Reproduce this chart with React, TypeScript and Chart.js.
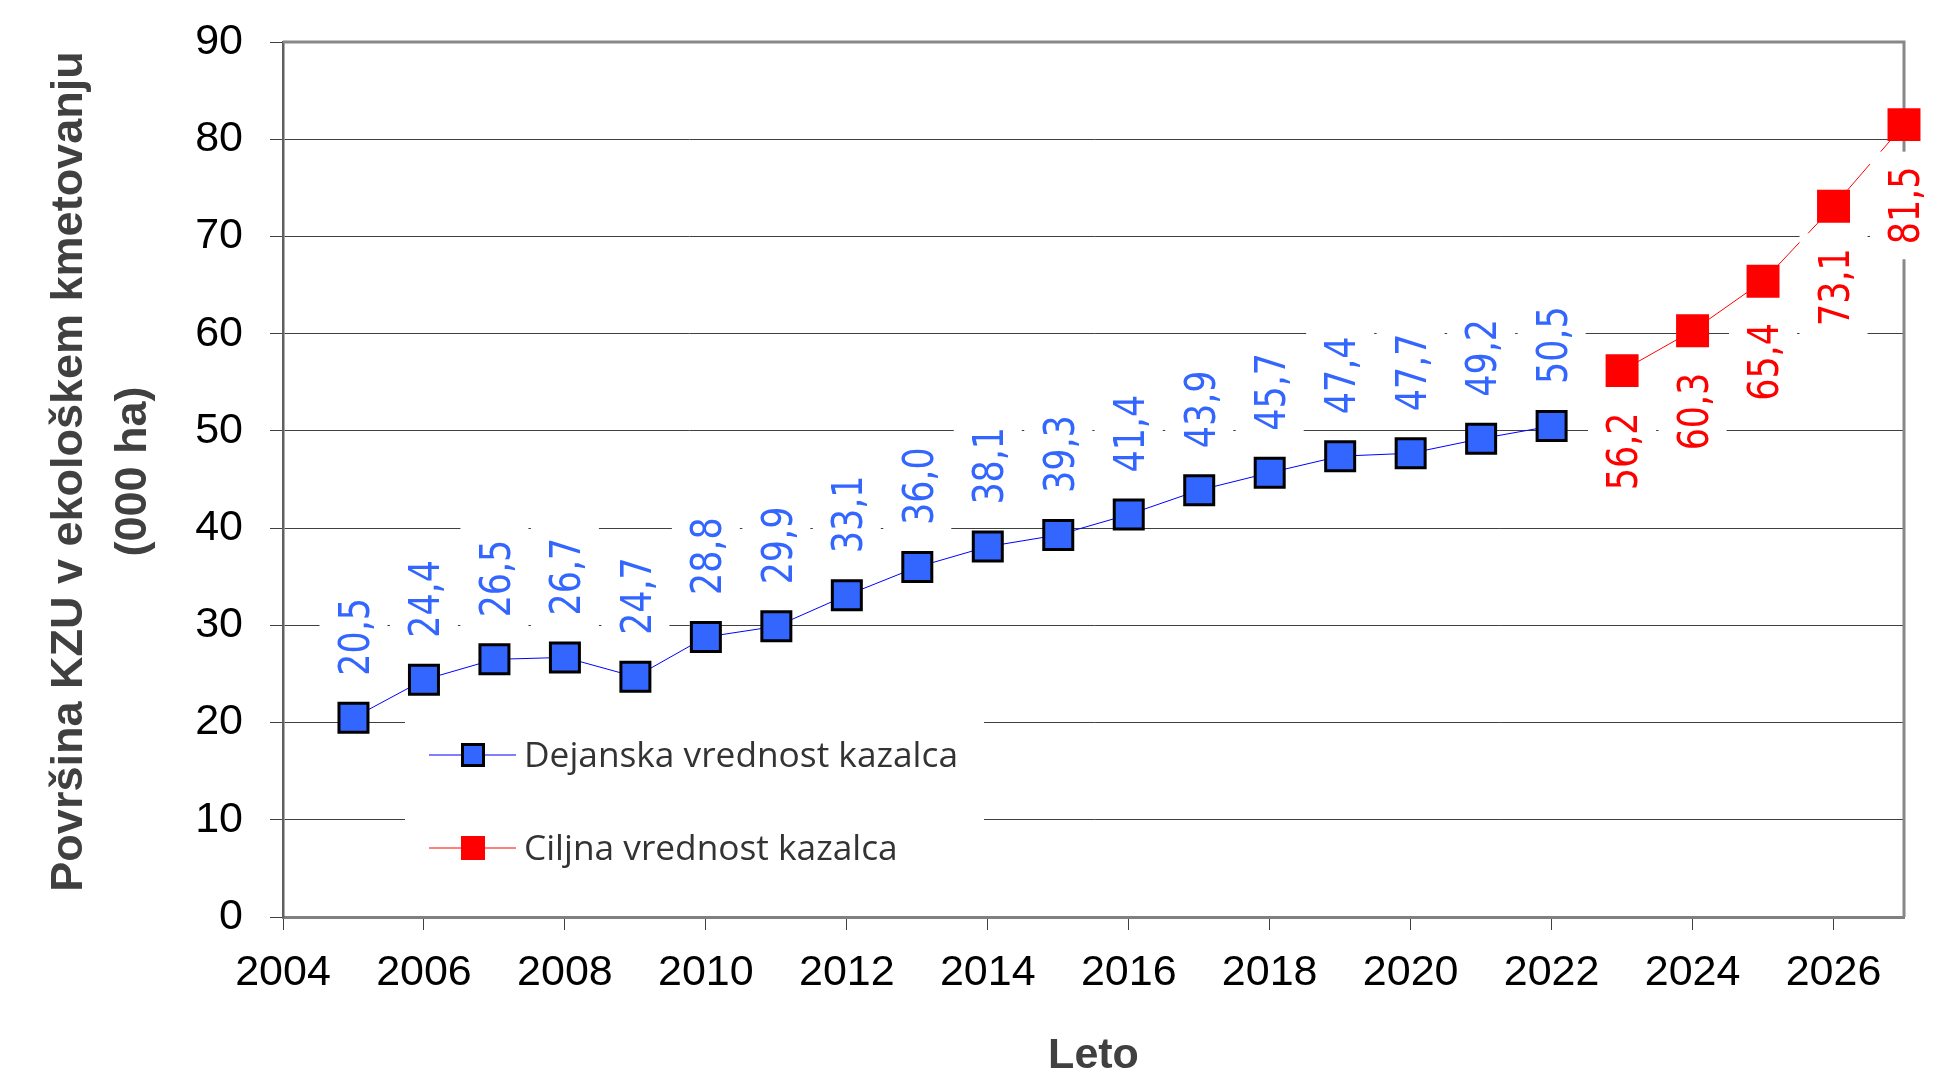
import React, { useEffect, useRef } from 'react';
import { Chart, registerables } from 'chart.js';

Chart.register(...registerables);

// ---- data ----
const actualYears = [2005, 2006, 2007, 2008, 2009, 2010, 2011, 2012, 2013, 2014, 2015, 2016, 2017, 2018, 2019, 2020, 2021, 2022];
const actualValues = [20.5, 24.4, 26.5, 26.7, 24.7, 28.8, 29.9, 33.1, 36.0, 38.1, 39.3, 41.4, 43.9, 45.7, 47.4, 47.7, 49.2, 50.5];
const targetYears = [2023, 2024, 2025, 2026, 2027];
const targetValues = [56.2, 60.3, 65.4, 73.1, 81.5];
const seriesNames = ['Dejanska vrednost kazalca', 'Ciljna vrednost kazalca'];
const yAxisTitle = ['Površina KZU v ekološkem kmetovanju', '(000 ha)'];
const xAxisTitle = 'Leto';
const xRange = [2004, 2027];
const yRange = [0, 90];

// ---- styles ----
const BLUE_LINE = '#0000FF';
const BLUE_FILL = '#3366FF';
const RED = '#FF0000';
const AXIS_FONT = '"Liberation Sans", Arial, sans-serif';
const LABEL_FONT_SIZE = 42;
const LABEL_SCALE = 0.83;
const LEGEND_FONT_SIZE = 35;
const LEGEND_TEXT_WIDTH = 434;
const YTITLE_SIZE = 45;

const fmt = (v: number) => v.toFixed(1).replace('.', ',');

const drawMarker = (ctx: CanvasRenderingContext2D, x: number, y: number, side: number, fill: string, stroke: string | null, lw: number) => {
  ctx.fillStyle = fill;
  ctx.fillRect(x - side / 2, y - side / 2, side, side);
  if (stroke) {
    ctx.strokeStyle = stroke;
    ctx.lineWidth = lw;
    ctx.strokeRect(x - side / 2, y - side / 2, side, side);
  }
};

const decorPlugin: any = {
  id: 'decor',
  beforeDatasetsDraw(chart: any) {
    const { ctx, chartArea } = chart;
    const { left, right, top, bottom } = chartArea;
    ctx.save();
    // top and right frame
    ctx.strokeStyle = '#888888';
    ctx.lineWidth = 3;
    ctx.beginPath();
    ctx.moveTo(left, top);
    ctx.lineTo(right, top);
    ctx.lineTo(right, bottom);
    ctx.stroke();

    // legend box
    const bx = left + 122;
    const by = 705;
    ctx.fillStyle = '#ffffff';
    ctx.fillRect(bx, by, 579, 185);
    const rows = [
      { y: 755, line: BLUE_LINE, fill: BLUE_FILL, stroke: '#000000', text: seriesNames[0] },
      { y: 848, line: RED, fill: RED, stroke: null, text: seriesNames[1] },
    ];
    ctx.font = `${LEGEND_FONT_SIZE}px "Open Sans", sans-serif`;
    const w0 = ctx.measureText(seriesNames[0]).width;
    const sx = LEGEND_TEXT_WIDTH / w0;
    for (const r of rows) {
      ctx.strokeStyle = r.line;
      ctx.lineWidth = 1;
      ctx.beginPath();
      ctx.moveTo(left + 146, r.y);
      ctx.lineTo(left + 233, r.y);
      ctx.stroke();
      if (r.stroke) drawMarker(ctx, left + 190, r.y, 21, r.fill, r.stroke, 3);
      else drawMarker(ctx, left + 190, r.y, 24, r.fill, null, 0);
      ctx.save();
      ctx.translate(left + 241, r.y + LEGEND_FONT_SIZE * 0.714 / 2);
      ctx.scale(sx, 1);
      ctx.fillStyle = '#333333';
      ctx.textAlign = 'left';
      ctx.textBaseline = 'alphabetic';
      ctx.font = `${LEGEND_FONT_SIZE}px "Open Sans", sans-serif`;
      ctx.fillText(r.text, 0, 0);
      ctx.restore();
    }
    ctx.restore();
  },
  afterDatasetsDraw(chart: any) {
    const { ctx } = chart;
    ctx.save();
    ctx.font = `${LABEL_FONT_SIZE}px "DejaVu Sans", Verdana, sans-serif`;
    const items: any[] = [];
    chart.data.datasets.forEach((ds: any, di: number) => {
      const meta = chart.getDatasetMeta(di);
      meta.data.forEach((pt: any, i: number) => {
        const v = ds.data[i].y;
        const txt = fmt(v);
        const len = ctx.measureText(txt).width * LABEL_SCALE;
        let start: number;
        if (di === 0) start = pt.y - 42;
        else start = pt.y + 42 + len;
        items.push({ x: pt.x, start, len, txt, color: di === 0 ? BLUE_FILL : RED });
      });
    });
    // white boxes
    ctx.fillStyle = '#ffffff';
    for (const it of items) {
      ctx.fillRect(it.x - 34, it.start - it.len - 15, 68, it.len + 30);
    }
    for (const it of items) {
      ctx.save();
      ctx.translate(it.x, it.start);
      ctx.rotate(-Math.PI / 2);
      ctx.scale(LABEL_SCALE, 1);
      ctx.fillStyle = it.color;
      ctx.textAlign = 'left';
      ctx.textBaseline = 'alphabetic';
      ctx.fillText(it.txt, 0, LABEL_FONT_SIZE * 0.729 / 2);
      ctx.restore();
    }
    ctx.restore();
  },
  afterDraw(chart: any) {
    // y axis title, two lines, rotated
    const { ctx } = chart;
    const capH = YTITLE_SIZE * 0.716;
    const centers = [65.5, 129.5];
    ctx.save();
    ctx.fillStyle = '#404040';
    ctx.font = `bold ${YTITLE_SIZE}px ${AXIS_FONT}`;
    ctx.textAlign = 'center';
    ctx.textBaseline = 'alphabetic';
    yAxisTitle.forEach((line, i) => {
      ctx.save();
      ctx.translate(centers[i] + capH / 2, 471.5);
      ctx.rotate(-Math.PI / 2);
      ctx.fillText(line, 0, 0);
      ctx.restore();
    });
    ctx.restore();
  },
};

export default function App() {
  const ref = useRef<HTMLCanvasElement | null>(null);
  useEffect(() => {
    if (!ref.current) return;
    const chart = new Chart(ref.current, {
      type: 'line',
      data: {
        datasets: [
          {
            label: seriesNames[0],
            data: actualYears.map((x, i) => ({ x, y: actualValues[i] })),
            borderColor: BLUE_LINE,
            borderWidth: 1,
            backgroundColor: BLUE_FILL,
            pointStyle: 'rect',
            pointRadius: 20.5,
            pointBackgroundColor: BLUE_FILL,
            pointBorderColor: '#000000',
            pointBorderWidth: 3,
            clip: false,
          } as any,
          {
            label: seriesNames[1],
            data: targetYears.map((x, i) => ({ x, y: targetValues[i] })),
            borderColor: RED,
            borderWidth: 1,
            backgroundColor: RED,
            pointStyle: 'rect',
            pointRadius: 23.3,
            pointBackgroundColor: RED,
            pointBorderColor: RED,
            pointBorderWidth: 0,
            clip: false,
          } as any,
        ],
      },
      options: {
        animation: false,
        responsive: false,
        events: [],
        layout: { padding: { top: 42, right: 31, left: 0, bottom: 0 } },
        plugins: { legend: { display: false }, tooltip: { enabled: false } },
        scales: {
          x: {
            type: 'linear',
            min: xRange[0],
            max: xRange[1],
            afterFit: (s: any) => { s.height = 156; s.paddingLeft = 0; s.paddingRight = 0; },
            ticks: {
              stepSize: 2,
              includeBounds: false,
              autoSkip: false,
              maxRotation: 0,
              padding: 17,
              color: '#000000',
              font: { family: AXIS_FONT, size: 43 },
              callback: (v: any) => String(v),
            },
            grid: { drawOnChartArea: false, drawTicks: true, tickLength: 13, color: '#404040', lineWidth: 1 },
            border: { display: true, color: '#808080', width: 3 },
            title: {
              display: true,
              text: xAxisTitle,
              color: '#404040',
              font: { family: AXIS_FONT, size: 43, weight: 'bold', lineHeight: 0.77 },
              padding: { top: 0, bottom: 0 },
            },
          } as any,
          y: {
            min: yRange[0],
            max: yRange[1],
            afterFit: (s: any) => { s.width = 283; s.paddingTop = 0; s.paddingBottom = 0; },
            ticks: { stepSize: 10, padding: 27, color: '#000000', font: { family: AXIS_FONT, size: 43 } },
            grid: { color: '#404040', lineWidth: 1, tickLength: 13, drawTicks: true },
            border: { display: true, color: '#606060', width: 2.5 },
            title: { display: false },
          } as any,
        },
      },
      plugins: [decorPlugin],
    });
    return () => chart.destroy();
  }, []);
  return (
    <div style={{ position: 'fixed', left: 0, top: 0, width: 1935, height: 1073, background: '#ffffff' }}>
      <canvas ref={ref} width={1935} height={1073} style={{ display: 'block' }} />
    </div>
  );
}
